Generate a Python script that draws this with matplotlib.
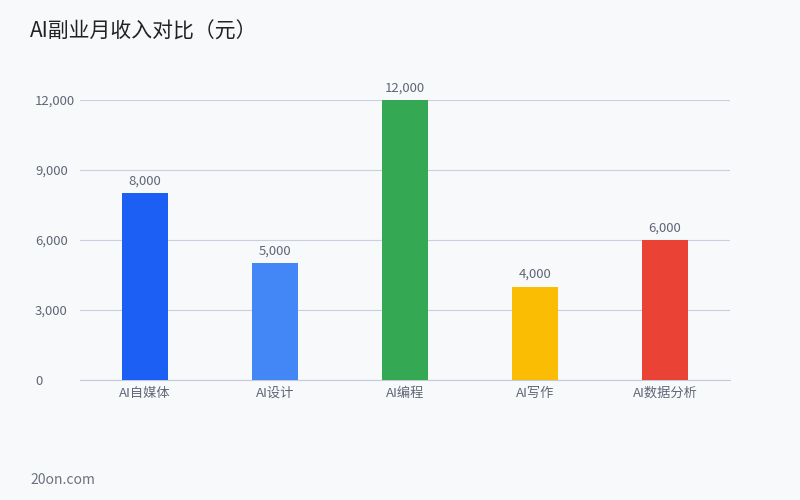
import matplotlib
matplotlib.use("Agg")
import matplotlib.pyplot as plt
import numpy as np

plt.rcParams['font.family'] = ['Noto Sans CJK SC', 'DejaVu Sans']

categories = ['AI自媒体', 'AI设计', 'AI编程', 'AI写作', 'AI数据分析']
income = [8000, 5000, 12000, 4000, 6000]
colors = ['#1c5ff5', '#4287f5', '#34a853', '#fbbc04', '#ea4335']
yticks = [0, 3000, 6000, 9000, 12000]

bg = '#f8f9fb'
fig = plt.figure(figsize=(8, 5), dpi=100, facecolor=bg)
ax = fig.add_axes([0.1, 0.24, 0.8125, 0.56], facecolor=bg)

x = np.arange(len(categories))
bars = ax.bar(x, income, width=0.35, color=colors, zorder=3)

for b, v in zip(bars, income):
    ax.text(b.get_x() + b.get_width() / 2, v + 250, f'{v:,}', ha='center', va='bottom',
            fontsize=9.5, color='#5f6675', clip_on=False)

ax.set_xlim(-0.5, len(categories) - 0.5)
ax.set_ylim(0, 12000)
ax.set_yticks(yticks)
ax.set_yticklabels([f'{t:,}' for t in yticks], ha='left')
ax.set_xticks(x)
ax.set_xticklabels(categories)
ax.grid(axis='y', color='#c8d0e0', linewidth=0.8, zorder=0)
ax.tick_params(axis='both', length=0, labelsize=9.5, colors='#5f6675')
ax.tick_params(axis='y', pad=32.4)
ax.tick_params(axis='x', pad=5)
for s in ['top', 'right', 'left']:
    ax.spines[s].set_visible(False)
ax.spines['bottom'].set_color('#c3cad8')

fig.text(30 / 800, 1 - 32 / 500, 'AI副业月收入对比（元）', fontsize=15, color='#222222',
         ha='left', va='center')
fig.text(30 / 800, 1 - 480 / 500, '20on.com', fontsize=10, color='#6b7180',
         ha='left', va='center')

fig.savefig('out.png', dpi=100, facecolor=bg)
